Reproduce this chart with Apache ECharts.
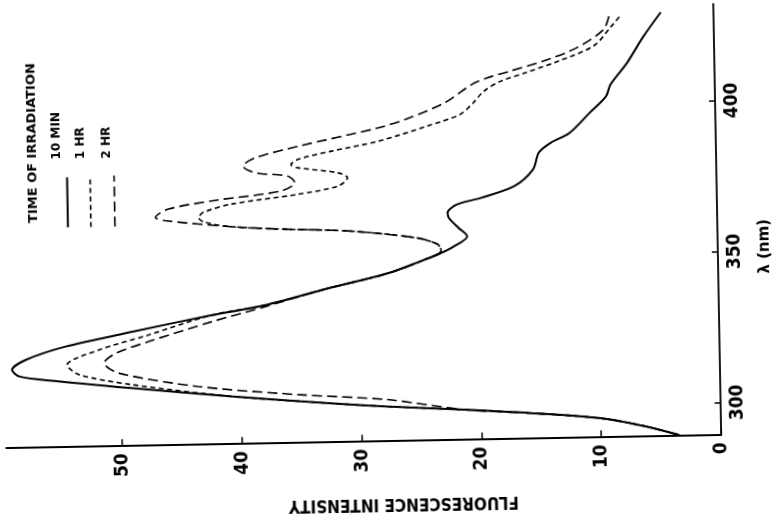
<!DOCTYPE html>
<html>
<head>
<meta charset="utf-8">
<script src="https://cdn.jsdelivr.net/npm/echarts@6/dist/echarts.min.js"></script>
<style>
  html, body { margin: 0; padding: 0; background: #fff; }
  /* the printed figure sits slightly askew on the page */
  #chart { width: 781px; height: 529px; transform: rotate(-1.05deg); transform-origin: 50% 50%; }
</style>
</head>
<body>
<div id="chart"></div>
<script>
// Axis ticks
const intensityTicks = [0, 10, 20, 30, 40, 50];
const wavelengthTicks = [300, 350, 400];

// Legend entries
const seriesNames = ['10 MIN', '1 HR', '2 HR'];

// 10 min irradiation: wavelength (nm) and fluorescence intensity
const wl10min = [289.5, 292.5, 295.4, 297.5, 299.2, 300.7, 302.1, 305.0, 308.4, 311.4, 312.9, 315.1, 318.4, 322.5, 327.0, 332.0, 335.0, 340.2, 344.8, 349.1, 350.7, 353.4, 356.6, 359.4, 362.8, 364.5, 367.2, 369.2, 372.9, 378.3, 383.8, 387.0, 390.2, 396.7, 402.1, 406.0, 413.0, 421.6, 429.6];
const fi10min = [3.5, 6.2, 9.8, 15.3, 21.4, 27.8, 32.5, 40.8, 49.2, 56.0, 58.5, 59.1, 57.9, 54.6, 49.0, 42.4, 37.9, 32.6, 27.6, 24.5, 23.4, 22.0, 20.9, 21.6, 22.4, 22.5, 21.7, 19.7, 16.9, 15.3, 14.8, 13.8, 12.2, 10.5, 9.1, 8.7, 7.3, 5.9, 4.4];

// 1 hr irradiation
const wl1hr = [289.5, 292.5, 295.4, 297.5, 299.2, 300.7, 302.1, 305.0, 309.5, 313.1, 316.4, 321.2, 325.8, 332.0, 335.0, 340.2, 344.8, 349.1, 352.0, 354.2, 356.5, 359.1, 360.1, 361.2, 362.8, 364.4, 366.1, 368.7, 371.5, 374.0, 376.7, 378.4, 380.3, 381.4, 383.1, 385.6, 388.6, 393.3, 397.0, 400.7, 404.5, 407.7, 410.5, 414.2, 419.0, 425.0, 429.1];
const fi1hr = [3.5, 6.2, 9.8, 15.3, 21.4, 27.8, 32.5, 40.8, 49.1, 53.5, 54.5, 51.8, 47.7, 42.4, 37.9, 32.6, 27.6, 24.5, 23.1, 23.4, 25.3, 30.9, 36.4, 40.6, 42.8, 43.3, 42.9, 40.5, 35.0, 31.6, 30.8, 31.6, 34.9, 35.5, 34.9, 32.1, 28.2, 24.1, 21.3, 20.2, 19.3, 17.9, 15.7, 12.9, 10.0, 8.6, 7.7];

// 2 hr irradiation
const wl2hr = [289.5, 292.5, 295.4, 297.5, 299.2, 303.0, 305.2, 308.5, 313.4, 316.8, 320.0, 323.6, 329.8, 334.5, 340.2, 344.8, 349.1, 352.0, 354.2, 356.5, 359.1, 360.1, 361.2, 363.6, 364.7, 367.4, 370.0, 372.7, 375.4, 377.6, 378.9, 381.2, 383.8, 387.4, 393.0, 396.2, 400.9, 406.8, 408.9, 411.0, 414.1, 418.3, 424.2, 429.1];
const fi2hr = [3.5, 6.2, 9.8, 15.3, 21.4, 27.8, 35.3, 43.6, 50.2, 51.4, 50.4, 47.7, 42.4, 37.9, 32.6, 27.6, 24.5, 23.1, 23.4, 25.3, 30.9, 36.4, 40.6, 46.1, 46.9, 45.8, 41.9, 36.4, 35.2, 35.8, 38.5, 39.5, 38.5, 34.9, 28.2, 25.5, 22.6, 20.3, 19.0, 17.1, 14.3, 11.5, 9.2, 8.7];

// The spectrum is drawn turned a quarter turn: intensity runs right-to-left
// along the bottom, wavelength runs upward along the right-hand side.
const pairs = (wl, fi) => wl.map((w, i) => [fi[i], w]);

const narrowFont = "'Liberation Sans Narrow', 'DejaVu Sans Condensed', sans-serif";
const wideFont = "'DejaVu Sans', sans-serif";
const ink = '#000';

const dash1hr = [5, 3.5];
const dash2hr = [10, 5];

const chart = echarts.init(document.getElementById('chart'), null, { renderer: 'canvas' });

chart.setOption({
  animation: false,
  backgroundColor: '#fff',
  grid: { left: 3, right: 59, top: 10, bottom: 88.7 },
  xAxis: {
    type: 'value',
    inverse: true,
    min: 0,
    max: 59.7,
    position: 'bottom',
    axisLine: { show: true, lineStyle: { color: ink, width: 1.8 } },
    axisTick: { show: true, inside: true, length: 6, lineStyle: { color: ink, width: 1.5 }, customValues: intensityTicks },
    axisLabel: { rotate: 90, margin: 8, color: ink, fontSize: 19, fontWeight: 'bold', fontFamily: narrowFont, customValues: intensityTicks },
    splitLine: { show: false },
    name: 'FLUORESCENCE INTENSITY',
    nameLocation: 'middle',
    nameRotate: 180,
    nameGap: 55,
    nameTextStyle: { color: ink, fontSize: 17, fontWeight: 'bold', fontFamily: narrowFont, padding: [0, 78, 0, 0] }
  },
  yAxis: {
    type: 'value',
    min: 289.5,
    max: 432,
    position: 'right',
    axisLine: { show: true, lineStyle: { color: ink, width: 1.8 } },
    axisTick: { show: true, inside: true, length: 6, lineStyle: { color: ink, width: 1.5 }, customValues: wavelengthTicks },
    axisLabel: { rotate: 90, margin: 8, color: ink, fontSize: 19, fontWeight: 'bold', fontFamily: narrowFont, customValues: wavelengthTicks },
    splitLine: { show: false },
    name: 'λ (nm)',
    nameLocation: 'middle',
    nameRotate: 90,
    nameGap: 40,
    nameTextStyle: { color: ink, fontSize: 15, fontWeight: 'bold', fontFamily: wideFont, padding: [0, 56, 0, 0] }
  },
  series: [
    {
      name: seriesNames[2], type: 'line', data: pairs(wl2hr, fi2hr), smooth: 0.3, symbol: 'none', z: 2,
      lineStyle: { color: ink, width: 1.6, type: dash2hr }
    },
    {
      name: seriesNames[1], type: 'line', data: pairs(wl1hr, fi1hr), smooth: 0.3, symbol: 'none', z: 3,
      lineStyle: { color: ink, width: 1.6, type: dash1hr }
    },
    {
      name: seriesNames[0], type: 'line', data: pairs(wl10min, fi10min), smooth: 0.3, symbol: 'none', z: 4,
      lineStyle: { color: ink, width: 2, type: 'solid' }
    }
  ],
  graphic: [
    {
      // key, laid out upright and turned to read bottom-to-top
      type: 'group',
      x: 30.7,
      y: 221.4,
      rotation: Math.PI / 2,
      children: [
        { type: 'text', x: 5, y: 4, style: { text: 'TIME OF IRRADIATION', fill: ink, fontSize: 13, fontWeight: 'bold', fontFamily: wideFont, align: 'left', verticalAlign: 'middle' } },
        { type: 'line', shape: { x1: 0, y1: 38, x2: 50, y2: 38 }, style: { stroke: ink, lineWidth: 2 } },
        { type: 'text', x: 68, y: 28, style: { text: seriesNames[0], fill: ink, fontSize: 12, fontWeight: 'bold', fontFamily: wideFont, align: 'left', verticalAlign: 'middle' } },
        { type: 'line', shape: { x1: 0, y1: 61, x2: 48, y2: 61 }, style: { stroke: ink, lineWidth: 1.6, lineDash: dash1hr } },
        { type: 'text', x: 68, y: 52.5, style: { text: seriesNames[1], fill: ink, fontSize: 12, fontWeight: 'bold', fontFamily: wideFont, align: 'left', verticalAlign: 'middle' } },
        { type: 'line', shape: { x1: 0, y1: 85, x2: 51, y2: 85 }, style: { stroke: ink, lineWidth: 1.6, lineDash: dash2hr } },
        { type: 'text', x: 68, y: 78, style: { text: seriesNames[2], fill: ink, fontSize: 12, fontWeight: 'bold', fontFamily: wideFont, align: 'left', verticalAlign: 'middle' } }
      ]
    }
  ]
});
</script>
</body>
</html>
